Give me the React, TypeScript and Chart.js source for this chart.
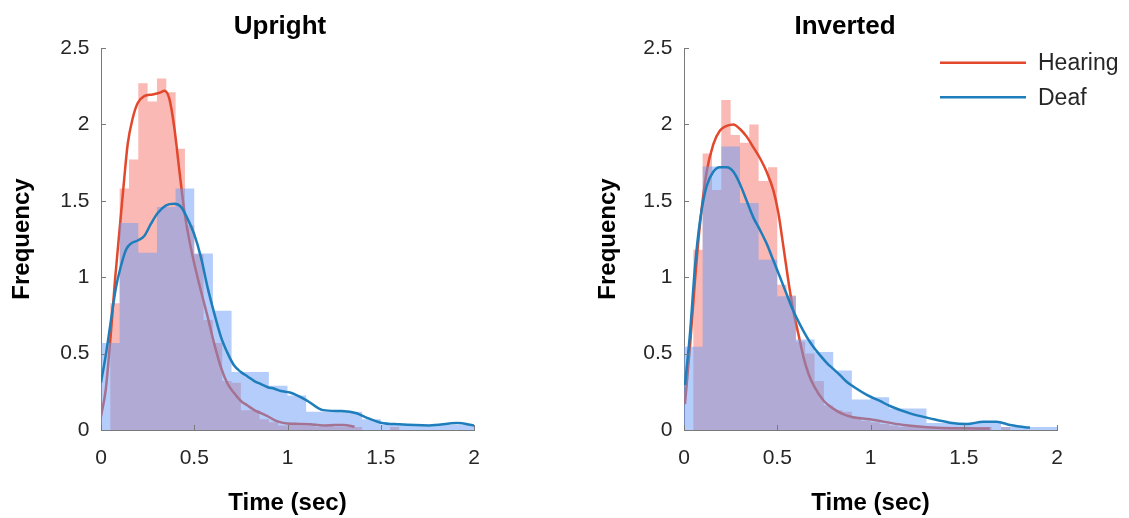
import React, { useEffect, useRef } from 'react';
import { Chart, registerables } from 'chart.js';

Chart.register(...registerables);

// ---------- tick labels ----------
const xTickValues = [0, 0.5, 1, 1.5, 2];
const xTickLabels = ['0', '0.5', '1', '1.5', '2'];
const yTickValues = [0, 0.5, 1, 1.5, 2, 2.5];
const yTickLabels = ['0', '0.5', '1', '1.5', '2', '2.5'];

// ---------- Upright: histograms ----------
const hearingUprightEdges = [0, 0.05, 0.1, 0.15, 0.2, 0.25, 0.3, 0.35, 0.4, 0.45, 0.5, 0.55, 0.6, 0.65, 0.7, 0.75, 0.8, 0.85, 0.9, 0.95, 1.0, 1.05, 1.1, 1.15, 1.2, 1.25, 1.3, 1.35, 1.4, 1.45, 1.5, 1.55, 1.6];
const hearingUprightHeights = [0, 0.83, 1.58, 1.77, 2.27, 2.15, 2.3, 2.21, 1.84, 1.34, 1.15, 0.72, 0.57, 0.32, 0.31, 0.13, 0.13, 0.07, 0.05, 0.03, 0.04, 0.03, 0.03, 0.02, 0.03, 0.02, 0.02, 0.02, 0, 0, 0, 0.02];
const deafUprightEdges = [0, 0.1, 0.2, 0.3, 0.4, 0.5, 0.6, 0.7, 0.8, 0.9, 1.0, 1.1, 1.2, 1.3, 1.4, 1.5, 1.6, 1.7, 1.8, 1.9, 2.0];
const deafUprightHeights = [0.57, 1.355, 1.16, 1.46, 1.58, 1.155, 0.78, 0.38, 0.38, 0.29, 0.225, 0.12, 0.12, 0.12, 0.07, 0.033, 0.033, 0.033, 0.033, 0.033];

// ---------- Upright: density curves ----------
const hearingUprightT = [0, 0.025, 0.05, 0.075, 0.104, 0.125, 0.143, 0.17, 0.197, 0.232, 0.277, 0.32, 0.34, 0.366, 0.393, 0.42, 0.447, 0.474, 0.5, 0.536, 0.572, 0.608, 0.643, 0.68, 0.715, 0.75, 0.786, 0.822, 0.858, 0.894, 0.93, 0.965, 1.0, 1.06, 1.12, 1.19, 1.25, 1.3, 1.36];
const hearingUprightV = [0.09, 0.26, 0.59, 0.98, 1.37, 1.65, 1.87, 2.04, 2.14, 2.185, 2.196, 2.21, 2.22, 2.17, 1.98, 1.7, 1.43, 1.24, 1.09, 0.91, 0.74, 0.56, 0.41, 0.3, 0.24, 0.19, 0.16, 0.13, 0.11, 0.09, 0.065, 0.05, 0.042, 0.04, 0.038, 0.03, 0.032, 0.033, 0.022];
const deafUprightT = [0, 0.027, 0.05, 0.08, 0.104, 0.134, 0.16, 0.197, 0.232, 0.268, 0.304, 0.349, 0.393, 0.429, 0.465, 0.5, 0.536, 0.572, 0.608, 0.643, 0.68, 0.715, 0.75, 0.786, 0.822, 0.858, 0.894, 0.93, 0.965, 1.013, 1.1, 1.19, 1.29, 1.37, 1.42, 1.5, 1.6, 1.76, 1.91, 2.0];
const deafUprightV = [0.31, 0.5, 0.69, 0.93, 1.06, 1.18, 1.22, 1.24, 1.27, 1.35, 1.42, 1.47, 1.48, 1.46, 1.38, 1.28, 1.13, 0.93, 0.76, 0.61, 0.5, 0.42, 0.38, 0.35, 0.32, 0.3, 0.28, 0.27, 0.255, 0.245, 0.196, 0.13, 0.124, 0.11, 0.083, 0.048, 0.037, 0.03, 0.045, 0.03];

// ---------- Inverted: histograms ----------
const hearingInvertedEdges = [0, 0.05, 0.1, 0.15, 0.2, 0.25, 0.3, 0.35, 0.4, 0.45, 0.5, 0.55, 0.6, 0.65, 0.7, 0.75, 0.8, 0.85, 0.9, 0.95, 1.0, 1.05, 1.1, 1.15, 1.2, 1.25, 1.3, 1.35, 1.4, 1.45, 1.5, 1.55, 1.6, 1.65, 1.7, 1.75];
const hearingInvertedHeights = [0, 1.18, 1.81, 1.57, 2.16, 1.93, 1.88, 2.0, 1.63, 1.72, 0.95, 0.88, 0.58, 0.5, 0.32, 0.16, 0.13, 0.12, 0.08, 0.06, 0.05, 0.04, 0.03, 0.02, 0.02, 0.02, 0.02, 0.01, 0.02, 0.01, 0.01, 0.01, 0.02, 0, 0.02];
const deafInvertedEdges = [0, 0.1, 0.2, 0.3, 0.4, 0.5, 0.6, 0.7, 0.8, 0.9, 1.0, 1.1, 1.2, 1.3, 1.4, 1.5, 1.6, 1.7, 1.8, 1.9, 2.0];
const deafInvertedHeights = [0.545, 1.725, 1.855, 1.485, 1.115, 0.876, 0.593, 0.51, 0.39, 0.2, 0.215, 0.14, 0.14, 0.045, 0.045, 0.045, 0.045, 0.02, 0.02, 0.02];

// ---------- Inverted: density curves ----------
const hearingInvertedT = [0.005, 0.032, 0.059, 0.086, 0.12, 0.157, 0.193, 0.229, 0.265, 0.3, 0.336, 0.372, 0.407, 0.443, 0.479, 0.506, 0.533, 0.559, 0.586, 0.613, 0.64, 0.667, 0.7, 0.75, 0.8, 0.85, 0.9, 0.997, 1.176, 1.355, 1.516, 1.64];
const hearingInvertedV = [0.17, 0.545, 0.98, 1.35, 1.68, 1.87, 1.96, 1.99, 2.0, 1.97, 1.92, 1.85, 1.78, 1.69, 1.57, 1.42, 1.2, 0.98, 0.78, 0.63, 0.48, 0.37, 0.28, 0.19, 0.14, 0.105, 0.085, 0.07, 0.033, 0.015, 0.011, 0.01];
const deafInvertedT = [0.005, 0.032, 0.059, 0.086, 0.12, 0.157, 0.193, 0.229, 0.265, 0.3, 0.336, 0.372, 0.407, 0.443, 0.479, 0.515, 0.55, 0.586, 0.622, 0.658, 0.693, 0.729, 0.765, 0.8, 0.836, 0.872, 0.926, 0.98, 1.05, 1.104, 1.212, 1.319, 1.426, 1.516, 1.605, 1.676, 1.748, 1.837, 1.855];
const deafInvertedV = [0.294, 0.63, 1.07, 1.37, 1.59, 1.69, 1.72, 1.72, 1.69, 1.61, 1.5, 1.39, 1.31, 1.22, 1.11, 1.0, 0.89, 0.78, 0.69, 0.61, 0.545, 0.49, 0.44, 0.4, 0.36, 0.316, 0.27, 0.23, 0.19, 0.157, 0.109, 0.076, 0.048, 0.039, 0.054, 0.054, 0.033, 0.017, 0.015];

// ---------- styles ----------
const FONT = 'Liberation Sans, Arial, Helvetica, sans-serif';
const RED_LINE = 'rgb(226,72,44)';
const BLUE_LINE = 'rgb(30,126,187)';
const RED_FILL = 'rgba(245,115,105,0.5)';
const BLUE_FILL = 'rgba(105,155,245,0.5)';
const AXIS = '#7a7a7a';
const TICK_TEXT = '#262626';
const CURVE_WIDTH = 2.5;

function histPoints(edges: number[], heights: number[]) {
  return edges.map((e, i) => ({ x: e, y: i < heights.length ? heights[i] : 0 }));
}
function curvePoints(t: number[], v: number[]) {
  return t.map((x, i) => ({ x, y: v[i] }));
}

const inwardTicks = {
  id: 'inwardTicks',
  afterDraw(chart: any) {
    const { ctx, chartArea, scales } = chart;
    ctx.save();
    ctx.strokeStyle = AXIS;
    ctx.lineWidth = 1;
    scales.x.ticks.forEach((t: any) => {
      const px = Math.round(scales.x.getPixelForValue(t.value)) + 0.5;
      ctx.beginPath();
      ctx.moveTo(px, chartArea.bottom);
      ctx.lineTo(px, chartArea.bottom - 5);
      ctx.stroke();
    });
    scales.y.ticks.forEach((t: any) => {
      const py = Math.round(scales.y.getPixelForValue(t.value)) + 0.5;
      ctx.beginPath();
      ctx.moveTo(chartArea.left, py);
      ctx.lineTo(chartArea.left + 5, py);
      ctx.stroke();
    });
    ctx.restore();
  },
};

const lineLegend = {
  id: 'lineLegend',
  afterDraw(chart: any, _args: any, opts: any) {
    if (!opts || !opts.show) return;
    const { ctx, chartArea } = chart;
    const items = chart.data.datasets.filter((d: any) => d.showInLegend);
    items.sort((a: any, b: any) => a.legendIndex - b.legendIndex);
    ctx.save();
    ctx.font = `23px ${FONT}`;
    ctx.textBaseline = 'middle';
    ctx.textAlign = 'left';
    items.forEach((d: any, i: number) => {
      const y = chartArea.top + 14.7 + i * 34.6;
      ctx.strokeStyle = d.borderColor;
      ctx.lineWidth = CURVE_WIDTH;
      ctx.beginPath();
      ctx.moveTo(chartArea.right - 117, y);
      ctx.lineTo(chartArea.right - 31, y);
      ctx.stroke();
      ctx.fillStyle = TICK_TEXT;
      ctx.fillText(d.label, chartArea.right - 19, y + 1);
    });
    ctx.restore();
  },
};

type Panel = {
  title: string;
  hearingEdges: number[];
  hearingHeights: number[];
  deafEdges: number[];
  deafHeights: number[];
  hearingT: number[];
  hearingV: number[];
  deafT: number[];
  deafV: number[];
  yWidth: number;
  y2Width: number;
  yTitlePad: number;
  legend: boolean;
};

function makeConfig(p: Panel): any {
  return {
    type: 'line',
    data: {
      datasets: [
        {
          label: 'Deaf', showInLegend: true, legendIndex: 1,
          data: curvePoints(p.deafT, p.deafV),
          borderColor: BLUE_LINE, borderWidth: CURVE_WIDTH, pointRadius: 0,
          cubicInterpolationMode: 'monotone', fill: false, order: 0,
        },
        {
          label: 'Deaf histogram',
          data: histPoints(p.deafEdges, p.deafHeights),
          stepped: 'before', borderWidth: 0, borderColor: 'rgba(0,0,0,0)',
          backgroundColor: BLUE_FILL, fill: 'origin', pointRadius: 0, order: 1,
        },
        {
          label: 'Hearing', showInLegend: true, legendIndex: 0,
          data: curvePoints(p.hearingT, p.hearingV),
          borderColor: RED_LINE, borderWidth: CURVE_WIDTH, pointRadius: 0,
          cubicInterpolationMode: 'monotone', fill: false, order: 2,
        },
        {
          label: 'Hearing histogram',
          data: histPoints(p.hearingEdges, p.hearingHeights),
          stepped: 'before', borderWidth: 0, borderColor: 'rgba(0,0,0,0)',
          backgroundColor: RED_FILL, fill: 'origin', pointRadius: 0, order: 3,
        },
      ],
    },
    options: {
      responsive: false,
      animation: false,
      devicePixelRatio: 1,
      layout: { padding: 0 },
      events: [],
      plugins: {
        legend: { display: false },
        tooltip: { enabled: false },
        title: {
          display: true, text: p.title, color: '#000', fullSize: true,
          font: { family: FONT, size: 26, weight: 'bold' },
          padding: { top: 11.4, bottom: 5.4 },
        },
        lineLegend: { show: p.legend },
      },
      scales: {
        x: {
          type: 'linear', min: 0, max: 2, z: 1,
          afterBuildTicks: (s: any) => { s.ticks = xTickValues.map((v) => ({ value: v })); },
          afterFit: (s: any) => { s.height = 88; },
          ticks: {
            callback: (_v: any, i: number) => xTickLabels[i],
            font: { family: FONT, size: 21 }, color: TICK_TEXT,
            padding: 15.4, maxRotation: 0, autoSkip: false,
          },
          grid: { display: false, drawTicks: false },
          border: { display: true, color: AXIS, width: 1 },
          title: {
            display: true, text: 'Time (sec)', color: '#000',
            font: { family: FONT, size: 24, weight: 'bold' },
            padding: { top: 0, bottom: 0.6 },
          },
        },
        y: {
          type: 'linear', position: 'left', min: 0, max: 2.5, z: 1,
          afterBuildTicks: (s: any) => { s.ticks = yTickValues.map((v) => ({ value: v })); },
          afterFit: (s: any) => { s.width = p.yWidth; },
          ticks: {
            callback: (_v: any, i: number) => yTickLabels[i],
            font: { family: FONT, size: 21 }, color: TICK_TEXT,
            padding: 11.5, autoSkip: false,
          },
          grid: { display: false, drawTicks: false },
          border: { display: true, color: AXIS, width: 1 },
          title: {
            display: true, text: 'Frequency', color: '#000',
            font: { family: FONT, size: 24, weight: 'bold' },
            padding: { top: p.yTitlePad, bottom: 0 },
          },
        },
        y2: {
          type: 'linear', position: 'right', display: true,
          afterFit: (s: any) => { s.width = p.y2Width; },
          ticks: { display: false },
          grid: { display: false, drawTicks: false },
          border: { display: false },
        },
      },
    },
    plugins: [inwardTicks, lineLegend],
  };
}

const uprightPanel: Panel = {
  title: 'Upright',
  hearingEdges: hearingUprightEdges, hearingHeights: hearingUprightHeights,
  deafEdges: deafUprightEdges, deafHeights: deafUprightHeights,
  hearingT: hearingUprightT, hearingV: hearingUprightV,
  deafT: deafUprightT, deafV: deafUprightV,
  yWidth: 101, y2Width: 86, yTitlePad: 7.6, legend: false,
};

const invertedPanel: Panel = {
  title: 'Inverted',
  hearingEdges: hearingInvertedEdges, hearingHeights: hearingInvertedHeights,
  deafEdges: deafInvertedEdges, deafHeights: deafInvertedHeights,
  hearingT: hearingInvertedT, hearingV: hearingInvertedV,
  deafT: deafInvertedT, deafV: deafInvertedV,
  yWidth: 123, y2Width: 72, yTitlePad: 32.6, legend: true,
};

function PanelChart({ panel, left, width }: { panel: Panel; left: number; width: number }) {
  const ref = useRef<HTMLCanvasElement | null>(null);
  useEffect(() => {
    if (!ref.current) return;
    const chart = new Chart(ref.current, makeConfig(panel));
    return () => chart.destroy();
  }, [panel]);
  return (
    <canvas
      ref={ref}
      width={width}
      height={518}
      style={{ position: 'absolute', left, top: 0, width, height: 518 }}
    />
  );
}

export default function App() {
  return (
    <div style={{ position: 'fixed', left: 0, top: 0, width: 1129, height: 518, background: '#fff', overflow: 'hidden' }}>
      <PanelChart panel={uprightPanel} left={0} width={560} />
      <PanelChart panel={invertedPanel} left={561} width={568} />
    </div>
  );
}
